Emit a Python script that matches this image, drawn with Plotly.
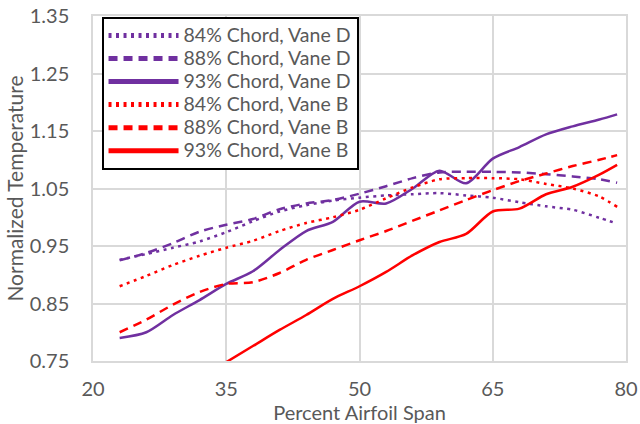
import plotly.graph_objects as go

span = [23, 26, 29, 32, 35, 38, 41, 44, 47, 50, 53, 56, 59, 62, 65, 68, 71, 74, 77, 79]

chord84_vane_d = [0.926, 0.936, 0.947, 0.958, 0.974, 0.993, 1.010, 1.021, 1.029, 1.034,
                  1.038, 1.040, 1.042, 1.038, 1.034, 1.026, 1.019, 1.013, 0.999, 0.989]
chord88_vane_d = [0.925, 0.938, 0.955, 0.975, 0.987, 0.997, 1.014, 1.024, 1.030, 1.041,
                  1.054, 1.068, 1.078, 1.079, 1.079, 1.078, 1.075, 1.071, 1.066, 1.060]
chord93_vane_d = [0.790, 0.800, 0.830, 0.856, 0.884, 0.906, 0.943, 0.976, 0.992, 1.027,
                  1.024, 1.050, 1.081, 1.059, 1.102, 1.122, 1.144, 1.158, 1.170, 1.179]
chord84_vane_b = [0.880, 0.898, 0.917, 0.933, 0.947, 0.959, 0.976, 0.990, 1.000, 1.013,
                  1.033, 1.052, 1.066, 1.068, 1.068, 1.066, 1.058, 1.050, 1.036, 1.018]
chord88_vane_b = [0.800, 0.822, 0.848, 0.870, 0.884, 0.887, 0.903, 0.926, 0.943, 0.960,
                  0.976, 0.994, 1.012, 1.030, 1.047, 1.063, 1.076, 1.089, 1.100, 1.108]
chord93_vane_b = [None, None, None, None, 0.748, 0.776, 0.804, 0.830, 0.858, 0.880,
                  0.905, 0.934, 0.957, 0.971, 1.010, 1.015, 1.040, 1.053, 1.074, 1.091]

series_names = ["84% Chord, Vane D", "88% Chord, Vane D", "93% Chord, Vane D",
                "84% Chord, Vane B", "88% Chord, Vane B", "93% Chord, Vane B"]
x_ticks = [20, 35, 50, 65, 80]
y_ticks = [0.75, 0.85, 0.95, 1.05, 1.15, 1.25, 1.35]

PURPLE = "#7030A0"
RED = "#FF0000"
DOT = "3px,4.5px"
DASH = "9px,6px"
styles = [(PURPLE, DOT), (PURPLE, DASH), (PURPLE, "solid"),
          (RED, DOT), (RED, DASH), (RED, "solid")]
data = [chord84_vane_d, chord88_vane_d, chord93_vane_d,
        chord84_vane_b, chord88_vane_b, chord93_vane_b]

fig = go.Figure()
for name, ys, (c, d) in zip(series_names, data, styles):
    fig.add_trace(go.Scatter(x=span, y=ys, mode="lines",
                             name='<span style="font-size:19.5px">' + name + '</span>',
                             line=dict(color=c, dash=d, width=2.5, shape="spline", smoothing=0.8)))

font_family = "Lato, 'Open Sans', sans-serif"
fig.update_layout(
    width=640, height=424,
    margin=dict(l=93, r=14, t=16, b=63, autoexpand=False),
    paper_bgcolor="white", plot_bgcolor="white",
    font=dict(family=font_family, color="#595959", size=18),
    showlegend=True,
    legend=dict(x=0.016, y=0.997, xanchor="left", yanchor="top",
                bgcolor="white", bordercolor="black", borderwidth=2,
                font=dict(size=15.4, color="#595959"),
                itemwidth=70, tracegroupgap=0, itemsizing="constant"),
    xaxis=dict(range=[20, 80], tickvals=x_ticks, showgrid=True, gridcolor="#d9d9d9",
               gridwidth=1.5, zeroline=False, showline=True, linecolor="#d9d9d9",
               linewidth=1.5, mirror=True, ticks="", tickfont=dict(size=20),
               automargin=False, ticklabelstandoff=9,
               title=dict(text="Percent Airfoil Span", font=dict(size=20), standoff=4)),
    yaxis=dict(range=[0.75, 1.35], tickvals=y_ticks, tickformat=".2f", showgrid=True,
               gridcolor="#d9d9d9", gridwidth=1.5, zeroline=False, showline=True,
               linecolor="#d9d9d9", linewidth=1.5, mirror=True, ticks="",
               tickfont=dict(size=20), automargin=False, ticklabelstandoff=18,
               title=dict(text="Normalized Temperature", font=dict(size=21), standoff=0)),
)

fig.write_html("out.html", config={"displayModeBar": False},
               post_script="document.body.style.margin='0';document.body.style.overflow='hidden';")
